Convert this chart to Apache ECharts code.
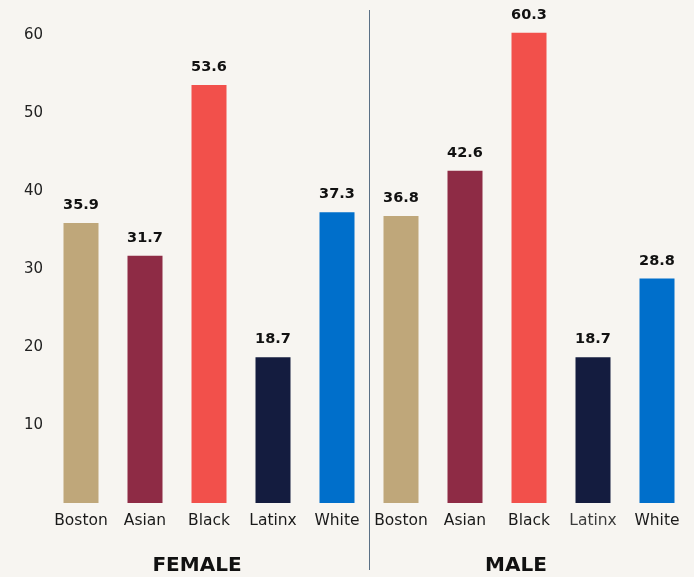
<!DOCTYPE html>
<html>
<head>
<meta charset="utf-8">
<script src="https://cdn.jsdelivr.net/npm/echarts@6/dist/echarts.min.js"></script>
<style>
  html, body { margin: 0; padding: 0; background: #f7f5f1; }
  #chart { width: 694px; height: 577px; }
</style>
</head>
<body>
<div id="chart"></div>
<script>
// Groups and categories
const groups = ['FEMALE', 'MALE'];
const races = ['Boston', 'Asian', 'Black', 'Latinx', 'White'];
const femaleValues = [35.9, 31.7, 53.6, 18.7, 37.3];
const maleValues = [36.8, 42.6, 60.3, 18.7, 28.8];
const yTicks = [10, 20, 30, 40, 50, 60];

const raceColors = ['#bfa77a', '#8e2b45', '#f2504b', '#141c3f', '#006fcb'];
const FONT = '"DejaVu Sans", sans-serif';

// One category per bar: female group first, then male group
const categories = races.concat(races);
const values = femaleValues.concat(maleValues);
const barData = values.map((v, i) => ({
  value: v,
  itemStyle: { color: raceColors[i % races.length] }
}));

const chart = echarts.init(document.getElementById('chart'));

chart.setOption({
  backgroundColor: '#f7f5f1',
  animation: false,
  grid: { left: 49, right: 5, top: 4, bottom: 74 },
  xAxis: {
    type: 'category',
    data: categories,
    axisLine: { show: false },
    axisTick: { show: false },
    axisLabel: {
      interval: 0,
      margin: 10,
      fontFamily: FONT,
      fontSize: 15.5,
      color: '#1a1a1a',
      formatter: (val, idx) => (idx === 8 ? '{light|' + val + '}' : val),
      rich: {
        light: { fontFamily: FONT, fontSize: 15.5, color: '#3c3c3c' }
      }
    }
  },
  yAxis: {
    type: 'value',
    min: 0,
    max: 64,
    interval: 10,
    splitLine: { show: false },
    axisLine: { show: false },
    axisTick: { show: false },
    axisLabel: {
      margin: 6,
      fontFamily: FONT,
      fontSize: 15,
      color: '#222',
      formatter: v => (yTicks.indexOf(v) >= 0 ? String(v) : '')
    }
  },
  series: [{
    type: 'bar',
    data: barData,
    barWidth: 35,
    label: {
      show: true,
      position: 'top',
      distance: 10,
      fontFamily: FONT,
      fontSize: 14.5,
      fontWeight: 'bold',
      color: '#111',
      formatter: p => p.value.toFixed(1)
    }
  }]
});

// Divider between the two groups and the group titles beneath them
function drawOverlay() {
  const xLeft = chart.convertToPixel({ xAxisIndex: 0 }, races.length - 1);
  const xRight = chart.convertToPixel({ xAxisIndex: 0 }, races.length);
  const xDiv = Math.round((xLeft + xRight) / 2) + 0.5;
  const xF0 = chart.convertToPixel({ xAxisIndex: 0 }, 0);
  const xM0 = chart.convertToPixel({ xAxisIndex: 0 }, races.length);
  const xM1 = chart.convertToPixel({ xAxisIndex: 0 }, categories.length - 1);
  chart.setOption({
    graphic: [
      {
        type: 'line',
        shape: { x1: xDiv, y1: 10, x2: xDiv, y2: 570 },
        style: { stroke: '#5b7086', lineWidth: 1 }
      },
      {
        type: 'text',
        x: (xF0 + xLeft) / 2 - 12,
        y: 566,
        style: {
          text: groups[0], fontFamily: FONT, fontSize: 20, fontWeight: 'bold',
          fill: '#111', align: 'center', verticalAlign: 'middle'
        }
      },
      {
        type: 'text',
        x: (xM0 + xM1) / 2 - 13,
        y: 566,
        style: {
          text: groups[1], fontFamily: FONT, fontSize: 20, fontWeight: 'bold',
          fill: '#111', align: 'center', verticalAlign: 'middle'
        }
      }
    ]
  });
}
drawOverlay();
</script>
</body>
</html>
